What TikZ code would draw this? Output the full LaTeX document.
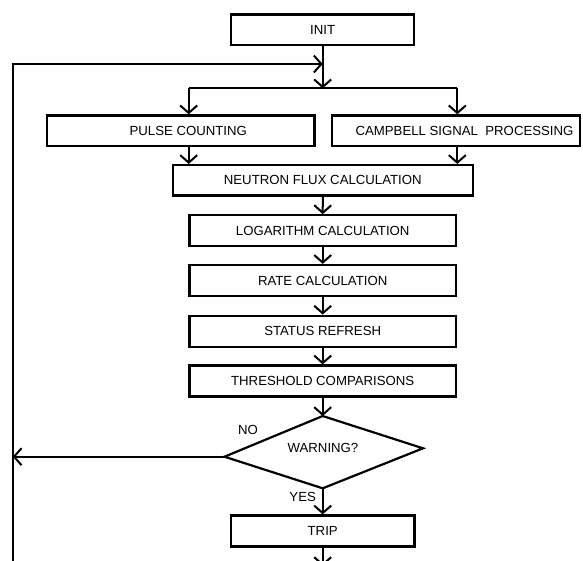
\documentclass[tikz,border=0pt]{standalone}
\usepackage{fontspec}
\setmainfont{Liberation Sans}
\usetikzlibrary{arrows.meta}
\begin{document}
\begin{tikzpicture}[x=1pt,y=-1pt,
  box/.style={draw, line width=2.2pt, inner sep=0pt, font=\fontsize{13.2}{15}\selectfont},
  link/.style={line width=2pt},
  arr/.style={link, -{Straight Barb[length=7.5pt,width=17pt]}},
  lbl/.style={inner sep=0pt, font=\fontsize{13.2}{15}\selectfont}]
\useasboundingbox (0,0) rectangle (583,560);
\clip (0,0) rectangle (583,560);

% process boxes
\node[box, minimum width=183pt, minimum height=30.5pt] (init) at (322.7,29.7) {INIT};
\node[box, minimum width=267.5pt, minimum height=30.2pt] (pulse) at (180.8,130.5) {\hspace*{15pt}PULSE COUNTING};
\node[box, minimum width=248pt, minimum height=30.2pt] (camp) at (456,130.5) {\hspace*{17pt}CAMPBELL SIGNAL\ \ PROCESSING};
\node[box, minimum width=300pt, minimum height=30.5pt] (flux) at (322.8,180.3) {NEUTRON FLUX CALCULATION};
\node[box, minimum width=266.5pt, minimum height=31pt] (log) at (322.7,230.7) {LOGARITHM CALCULATION};
\node[box, minimum width=266.5pt, minimum height=31pt] (rate) at (322.7,280.5) {RATE CALCULATION};
\node[box, minimum width=266.5pt, minimum height=31pt] (stat) at (322.7,331.2) {STATUS REFRESH};
\node[box, minimum width=266.5pt, minimum height=31pt] (thr) at (322.7,381) {THRESHOLD COMPARISONS};
\node[box, minimum width=183.5pt, minimum height=31pt] (trip) at (322.7,531) {TRIP};

% decision
\coordinate (dT) at (322.7,416);
\coordinate (dR) at (423,448.3);
\coordinate (dB) at (322.7,488.3);
\coordinate (dL) at (224.5,456.7);
\draw[line width=2.2pt, line join=miter] (dT) -- (dR) -- (dB) -- (dL) -- cycle;
\node[lbl] (warn) at (323,448.3) {WARNING?};
\node[lbl] (no) at (248,430) {NO};
\node[lbl] (yes) at (302.7,497.3) {YES};

% branch points and loop corners
\coordinate (split) at (322.7,88.3);
\coordinate (splitL) at (188.7,88.3);
\coordinate (splitR) at (457.3,88.3);
\coordinate (loopTop) at (12.7,64);
\coordinate (loopBot) at (12.7,575);
\coordinate (tripOut) at (322.7,566);

% connectors
\draw[arr] (init.south) -- (split);
\draw[link] (splitL) -- (splitR);
\draw[arr] (splitL) -- (splitL |- pulse.north);
\draw[arr] (splitR) -- (splitR |- camp.north);
\draw[arr] (pulse.south -| splitL) -- (splitL |- flux.north);
\draw[arr] (camp.south -| splitR) -- (splitR |- flux.north);
\draw[arr] (flux.south) -- (log.north);
\draw[arr] (log.south) -- (rate.north);
\draw[arr] (rate.south) -- (stat.north);
\draw[arr] (stat.south) -- (thr.north);
\draw[arr] (thr.south) -- (dT);
\draw[arr] (dB) -- (trip.north);
\draw[arr] (trip.south) -- (tripOut);
\draw[arr] (dL) -- (dL -| loopTop);
\draw[arr] (loopBot) -- (loopTop) -- (loopTop -| init.south);
\end{tikzpicture}
\end{document}
